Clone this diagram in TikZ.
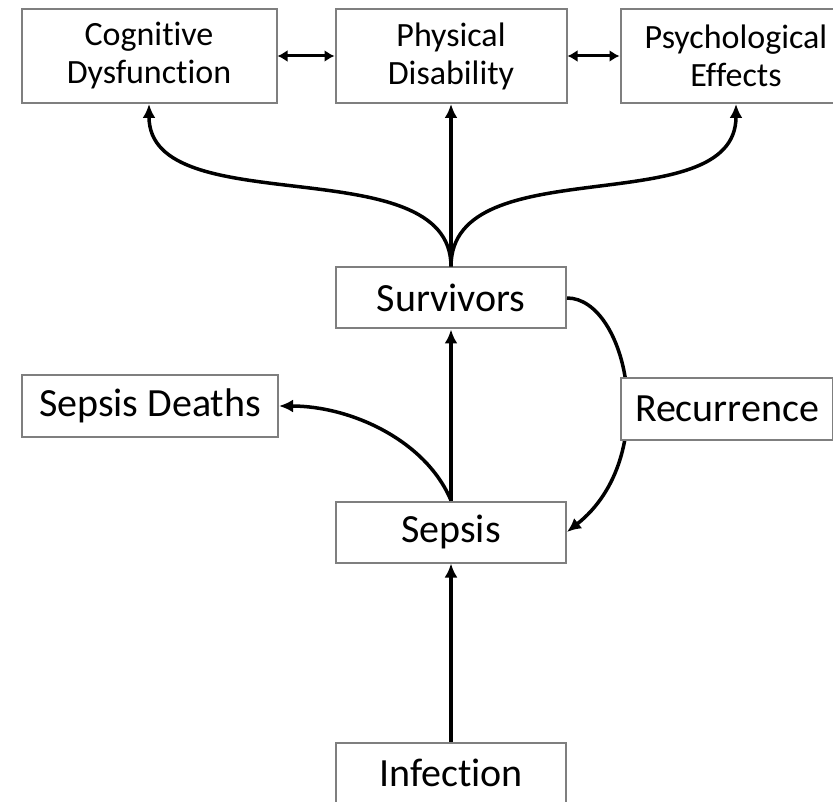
\documentclass[tikz,border=0pt]{standalone}
\usepackage{fontspec}
\setmainfont{Carlito}[Ligatures=NoCommon]
\usetikzlibrary{arrows.meta, positioning}
\definecolor{boxgray}{HTML}{7F7F7F}

\begin{document}
\begin{tikzpicture}[
    x=1pt, y=-1pt,
    box/.style={rectangle, draw=boxgray, line width=2pt, fill=white,
                minimum width=230pt, minimum height=61pt, inner sep=0pt,
                font=\fontsize{40}{44}\selectfont},
    topbox/.style={box, minimum height=94pt, align=center,
                font=\fontsize{34}{38}\selectfont},
    arrow/.style={-{Latex[length=14pt, width=13pt]}, line width=3.5pt},
    twoway/.style={{Latex[length=10pt, width=12pt]}-{Latex[length=10pt, width=12pt]}, line width=3pt}
]
\useasboundingbox (0,0) rectangle (833,802);

\node[box] (infection) at (451,773) {Infection};
\node[box] (sepsis) at (451,532) {Sepsis};
\node[box] (survivors) at (451,298) {Survivors};
\node[box, minimum width=256pt] (deaths) at (150,406) {Sepsis Deaths};
\node[topbox, minimum width=231pt] (physical) at (451,56) {Physical\\Disability};
\node[topbox, minimum width=255pt, left=57pt of physical] (cognitive) {Cognitive\\Dysfunction};
\node[topbox, minimum width=231pt, right=52pt of physical] (psych) {Psychological\\Effects};

\draw[arrow] (infection) -- (sepsis);
\draw[arrow] (sepsis) -- (survivors);
\draw[arrow] (sepsis.north) .. controls +(-25,-60) and +(72,0) .. (deaths.east);
\draw[arrow] (survivors.east) .. controls +(60,0) and +(95,-75) .. (sepsis.east);
\node[box, minimum width=212pt] (recur) at (727,409) {Recurrence};

\draw[arrow] (survivors) -- (physical);
\draw[arrow] (survivors.north) .. controls +(0,-120) and +(0,120) .. (cognitive.south);
\draw[arrow] (survivors.north) .. controls +(0,-120) and +(0,120) .. (psych.south);
\draw[twoway] (cognitive) -- (physical);
\draw[twoway] (physical) -- (psych);

\end{tikzpicture}
\end{document}
